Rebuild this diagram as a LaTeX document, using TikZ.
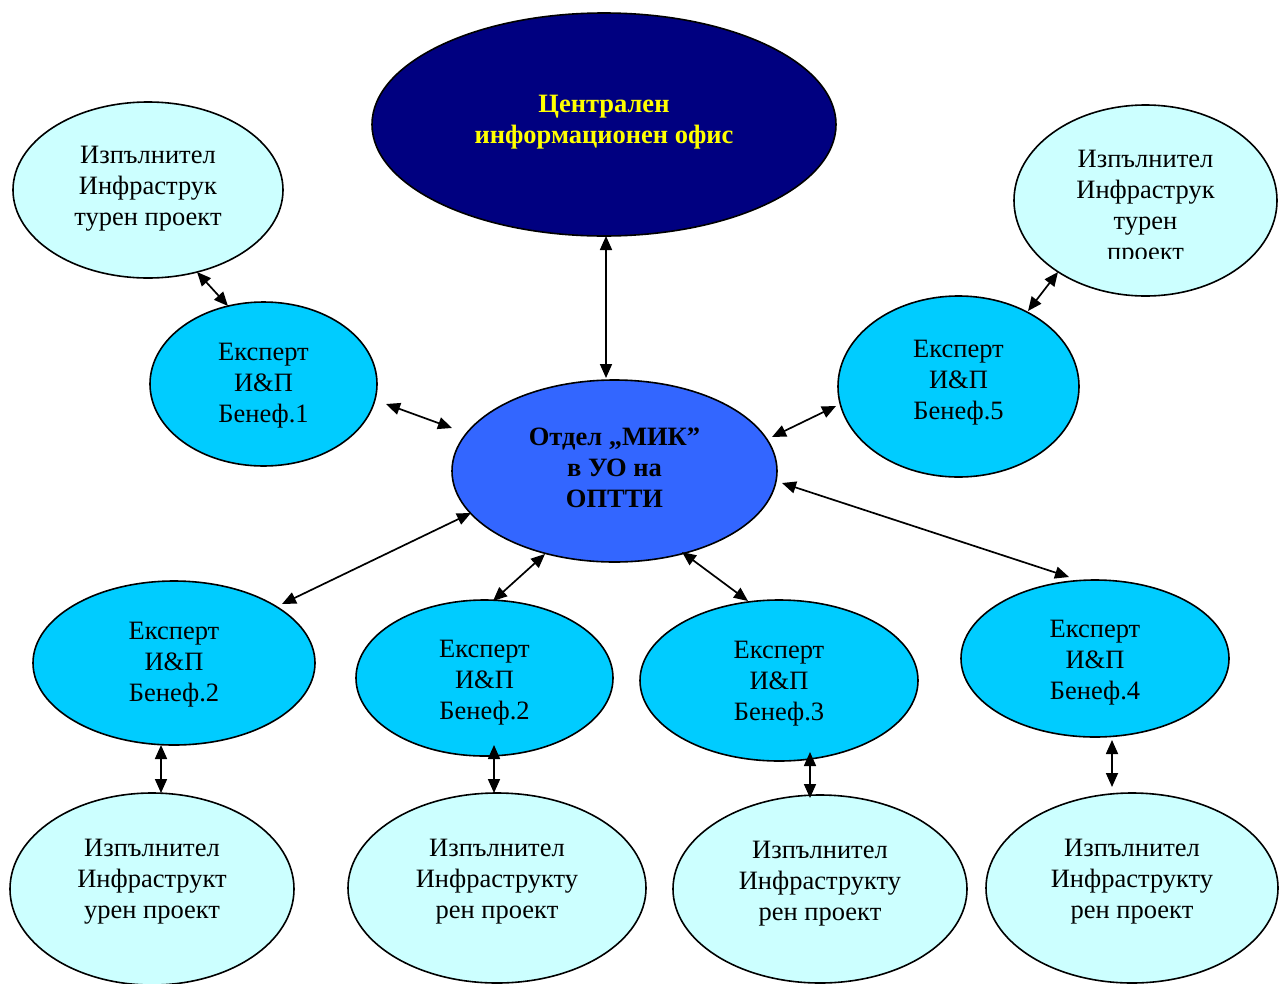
\documentclass[tikz,border=0pt]{standalone}
\usepackage{fontspec}
\setmainfont{Liberation Serif}
\usetikzlibrary{shapes.geometric,arrows.meta}
\definecolor{navyc}{RGB}{0,0,128}
\definecolor{midblue}{RGB}{51,102,255}
\definecolor{skyc}{RGB}{0,204,255}
\definecolor{palec}{RGB}{204,255,255}
\definecolor{yell}{RGB}{255,255,0}
\begin{document}
\begin{tikzpicture}[x=1pt,y=-1pt,
  oval/.style={ellipse, draw=black, line width=1.6pt, inner sep=0pt},
  exec/.style={oval, fill=palec},
  expert/.style={oval, fill=skyc},
  txt/.style={align=center, font=\fontsize{26.5}{31}\selectfont, inner sep=0pt, yshift=-2.5pt},
  btxt/.style={txt, font=\fontsize{26.5}{31}\selectfont\bfseries},
  link/.style={line width=1.7pt, {Triangle[length=14pt,width=12pt]}-{Triangle[length=14pt,width=12pt]}}]
\useasboundingbox (0,0) rectangle (1279,983);

% central office
\node[oval, fill=navyc, minimum width=464pt, minimum height=223pt] (cio) at (604,124.5) {};
\node[btxt, text=yell] (ciot) at (604,120) {Централен\\информационен офис};

% MIK
\node[oval, fill=midblue, minimum width=325pt, minimum height=182pt] (mik) at (614.5,471) {};
\node[btxt] (mikt) at (614.5,465) {Отдел „МИК”\\в УО на\\ОПТТИ};

% top-left executor
\node[exec, minimum width=270pt, minimum height=176pt] (x1) at (148,190) {};
\node[txt] (x1t) at (148,186) {Изпълнител\\Инфраструк\\турен проект};

% expert 1
\node[expert, minimum width=227pt, minimum height=164pt] (e1) at (263.5,384) {};
\node[txt] (e1t) at (263.5,383) {Експерт\\И\&П\\Бенеф.1};

% top-right executor
\node[exec, minimum width=263pt, minimum height=191pt] (x5) at (1145.5,200.5) {};
\begin{scope}
\clip (1014,100) rectangle (1277,258);
\node[txt] (x5t) at (1145.5,205.5) {Изпълнител\\Инфраструк\\турен\\проект};
\end{scope}

% expert 5
\node[expert, minimum width=241pt, minimum height=181pt] (e5) at (958.5,386.5) {};
\node[txt] (e5t) at (958.5,380.5) {Експерт\\И\&П\\Бенеф.5};

% bottom experts
\node[expert, minimum width=282pt, minimum height=164pt] (e2a) at (174,663) {};
\node[txt] (e2at) at (174,662) {Експерт\\И\&П\\Бенеф.2};
\node[expert, minimum width=257pt, minimum height=156pt] (e2b) at (484.5,678) {};
\node[txt] (e2bt) at (484.5,680) {Експерт\\И\&П\\Бенеф.2};
\node[expert, minimum width=278pt, minimum height=161pt] (e3) at (779,680.5) {};
\node[txt] (e3t) at (779,681.5) {Експерт\\И\&П\\Бенеф.3};
\node[expert, minimum width=268pt, minimum height=157pt] (e4) at (1095,658.5) {};
\node[txt] (e4t) at (1095,660.5) {Експерт\\И\&П\\Бенеф.4};

% bottom executors
\node[exec, minimum width=284pt, minimum height=192pt] (b1) at (152,889) {};
\node[txt] (b1t) at (152,879.5) {Изпълнител\\Инфраструкт\\урен проект};
\node[exec, minimum width=298pt, minimum height=190pt] (b2) at (497,888) {};
\node[txt] (b2t) at (497,879) {Изпълнител\\Инфраструкту\\рен проект};
\node[exec, minimum width=294pt, minimum height=188pt] (b3) at (820,889) {};
\node[txt] (b3t) at (820,881) {Изпълнител\\Инфраструкту\\рен проект};
\node[exec, minimum width=292pt, minimum height=190pt] (b4) at (1132,888) {};
\node[txt] (b4t) at (1132,879) {Изпълнител\\Инфраструкту\\рен проект};

% connector ends
\coordinate (a1) at (606,236);  \coordinate (a2) at (606,378);
\coordinate (c1) at (197,272);  \coordinate (c2) at (228,306);
\coordinate (d1) at (386,404);  \coordinate (d2) at (452,428);
\coordinate (f1) at (1058,272); \coordinate (f2) at (1028,311);
\coordinate (g1) at (836,406);  \coordinate (g2) at (772,437);
\coordinate (h1) at (782,483);  \coordinate (h2) at (1069,577);
\coordinate (i1) at (471,513);  \coordinate (i2) at (282,604);
\coordinate (j1) at (545,554);  \coordinate (j2) at (493,601);
\coordinate (k1) at (682,552);  \coordinate (k2) at (748,601);
\coordinate (l1) at (161,745);  \coordinate (l2) at (161,793);
\coordinate (m1) at (494,745);  \coordinate (m2) at (494,793);
\coordinate (n1) at (810,752);  \coordinate (n2) at (810,798);
\coordinate (o1) at (1112,740); \coordinate (o2) at (1112,787);

\draw[link] (a1) -- (a2);
\draw[link] (c1) -- (c2);
\draw[link] (d1) -- (d2);
\draw[link] (f1) -- (f2);
\draw[link] (g1) -- (g2);
\draw[link] (h1) -- (h2);
\draw[link] (i1) -- (i2);
\draw[link] (j1) -- (j2);
\draw[link] (k1) -- (k2);
\draw[link] (l1) -- (l2);
\draw[link] (m1) -- (m2);
\draw[link] (n1) -- (n2);
\draw[link] (o1) -- (o2);
\end{tikzpicture}
\end{document}
